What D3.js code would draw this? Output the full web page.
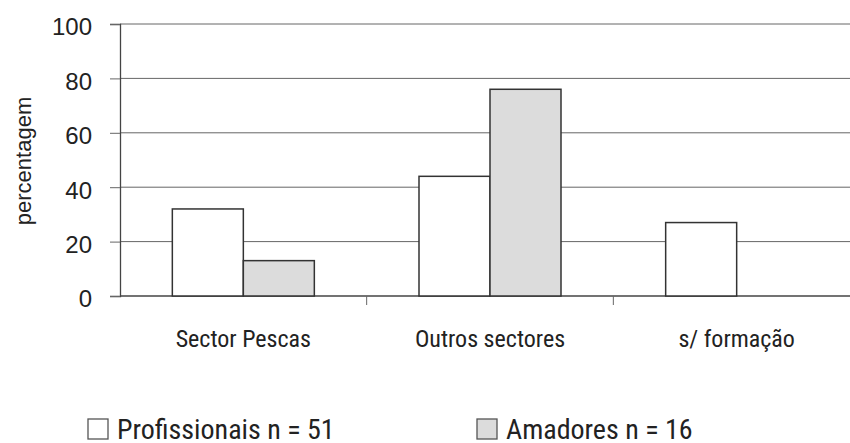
<!DOCTYPE html>
<html>
<head>
<meta charset="utf-8">
<script src="https://cdn.jsdelivr.net/npm/d3@7"></script>
<style>
  body { margin: 0; background: #fff; }
  text { font-family: "Liberation Sans Narrow", "Roboto Condensed", "Liberation Sans", sans-serif; fill: #222; }
</style>
</head>
<body>
<div id="chart"></div>
<script>
// categories and series
var categories = ["Sector Pescas", "Outros sectores", "s/ formação"];
var profissionais = [32, 44, 27];
var amadores = [13, 76, 0];
var seriesNames = ["Profissionais n = 51", "Amadores n = 16"];
var seriesColors = ["#ffffff", "#dcdcdc"];
var yTicks = [0, 20, 40, 60, 80, 100];

var width = 850, height = 443;
var svg = d3.select("#chart").append("svg")
    .attr("width", width)
    .attr("height", height);

var mLeft = 120, mRight = 860, mTop = 24, mBottom = 296;

var x = d3.scaleBand().domain(categories).range([mLeft, mRight]);
var xInner = d3.scaleBand().domain([0, 1]).range([0, 142]);
var y = d3.scaleLinear().domain([0, 100]).range([mBottom, mTop]);

// gridlines
svg.append("g")
  .selectAll("line")
  .data(yTicks.filter(function(d) { return d > 0; }))
  .enter().append("line")
    .attr("x1", mLeft).attr("x2", width)
    .attr("y1", function(d) { return y(d); })
    .attr("y2", function(d) { return y(d); })
    .attr("stroke", "#666")
    .attr("stroke-width", 1);

// y axis
var yAxis = d3.axisLeft(y).tickValues(yTicks).tickSize(10).tickPadding(18);
var gy = svg.append("g")
    .attr("transform", "translate(" + mLeft + ",0)")
    .call(yAxis);
gy.select(".domain").attr("stroke", "#444").attr("stroke-width", 1.3);
gy.selectAll(".tick line").attr("stroke", "#666");
gy.selectAll(".tick text")
    .style("font-family", "'Liberation Sans', sans-serif")
    .style("font-size", "24px")
    .attr("dy", "0.45em")
    .attr("fill", "#222");

// x axis (ticks between categories)
var gx = svg.append("g")
    .attr("transform", "translate(0," + mBottom + ")");
gx.append("line")
    .attr("x1", mLeft).attr("x2", width)
    .attr("y1", 0).attr("y2", 0)
    .attr("stroke", "#444").attr("stroke-width", 1.3);
gx.selectAll(".sep")
  .data(categories.slice(1))
  .enter().append("line")
    .attr("x1", function(d) { return x(d); })
    .attr("x2", function(d) { return x(d); })
    .attr("y1", 0).attr("y2", 9)
    .attr("stroke", "#666");
gx.selectAll(".lab")
  .data(categories)
  .enter().append("text")
    .attr("x", function(d) { return x(d) + x.bandwidth() / 2; })
    .attr("y", 51)
    .attr("text-anchor", "middle")
    .style("font-size", "24px")
    .text(function(d) { return d; });

// bars
var rows = [];
categories.forEach(function(c, i) {
  rows.push({cat: c, s: 0, v: profissionais[i]});
  rows.push({cat: c, s: 1, v: amadores[i]});
});
var offset = (x.bandwidth() - 142) / 2;
svg.append("g")
  .selectAll("rect")
  .data(rows.filter(function(d) { return d.v > 0; }))
  .enter().append("rect")
    .attr("x", function(d) { return x(d.cat) + offset + xInner(d.s); })
    .attr("y", function(d) { return y(d.v); })
    .attr("width", xInner.bandwidth())
    .attr("height", function(d) { return y(0) - y(d.v); })
    .attr("fill", function(d) { return seriesColors[d.s]; })
    .attr("stroke", "#333")
    .attr("stroke-width", 1.5);

// y label
svg.append("text")
    .attr("transform", "translate(31,161) rotate(-90)")
    .attr("text-anchor", "middle")
    .style("font-family", "'Liberation Sans', sans-serif")
    .style("font-size", "22px")
    .text("percentagem");

// legend
var legendX = [88, 477];
var leg = svg.append("g").selectAll("g")
  .data(seriesNames)
  .enter().append("g")
    .attr("transform", function(d, i) { return "translate(" + legendX[i] + ",419)"; });
leg.append("rect")
    .attr("width", 20).attr("height", 20)
    .attr("fill", function(d, i) { return seriesColors[i]; })
    .attr("stroke", "#555")
    .attr("stroke-width", 1.3);
leg.append("text")
    .attr("x", 29).attr("y", 20)
    .style("font-size", "28px")
    .text(function(d) { return d; });
</script>
</body>
</html>
